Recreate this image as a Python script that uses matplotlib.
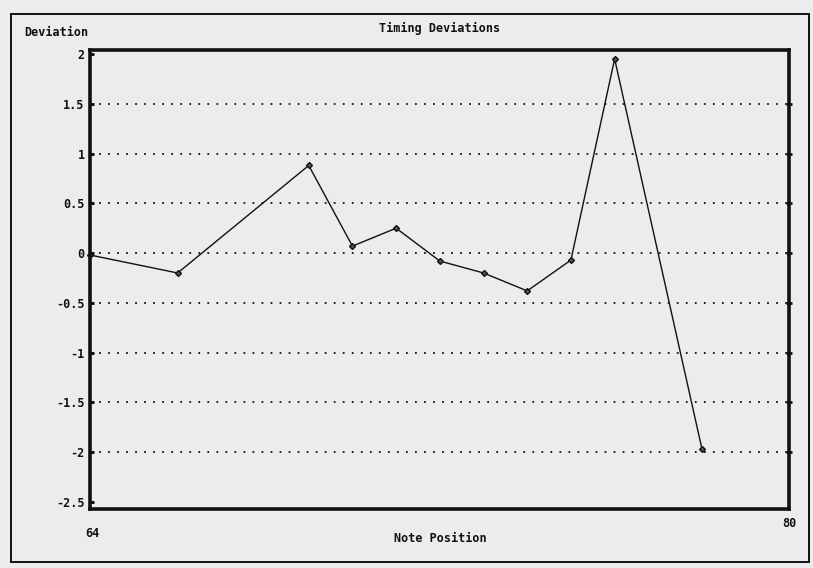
import matplotlib
matplotlib.use("Agg")
import matplotlib.pyplot as plt
from matplotlib.patches import Rectangle

# Timing deviation per note position
positions = [64, 66, 69, 70, 71, 72, 73, 74, 75, 76, 78]
deviations = [-0.02, -0.2, 0.88, 0.07, 0.25, -0.08, -0.2, -0.38, -0.07, 1.95, -1.97]

y_ticks = [2, 1.5, 1, 0.5, 0, -0.5, -1, -1.5, -2, -2.5]
y_tick_labels = ["2", "1.5", "1", "0.5", "0", "-0.5", "-1", "-1.5", "-2", "-2.5"]
grid_levels = [1.5, 1, 0.5, 0, -0.5, -1, -1.5, -2]
x_ends = [64, 80]

paper = "#ececec"
ink = "#111111"
font = dict(family="DejaVu Sans Mono", weight="bold", color=ink)

fig = plt.figure(figsize=(8.13, 5.68), dpi=100, facecolor=paper)
ax = fig.add_axes([0.111, 0.104, 0.860, 0.808], facecolor=paper)

# page border
fig.patches.append(Rectangle((0.013, 0.010), 0.982, 0.966, transform=fig.transFigure,
                             fill=False, edgecolor=ink, linewidth=1.4))

ax.set_xlim(x_ends[0], x_ends[1])
ax.set_ylim(-2.57, 2.04)

for lvl in grid_levels:
    ax.plot(x_ends, [lvl, lvl], linestyle=(0, (1, 4)), color=ink, linewidth=1.3)
    ax.plot([x_ends[1]], [lvl], marker="_", color=ink, markersize=5, mew=2,
            clip_on=False)

ax.plot(positions, deviations, color=ink, linewidth=1.0, marker="D",
        markersize=3, markerfacecolor="#555555", markeredgecolor=ink, clip_on=False)

for s in ax.spines.values():
    s.set_linewidth(2.6)
    s.set_color(ink)

ax.set_yticks(y_ticks)
ax.set_yticklabels(y_tick_labels, fontsize=8.5, **font)
ax.tick_params(axis="y", length=3, width=2, direction="in", pad=4)
ax.set_xticks([])

ax.text(x_ends[0] + 0.05, -2.75, str(x_ends[0]), ha="center", va="top", fontsize=8.5, **font)
ax.text(x_ends[1], -2.65, str(x_ends[1]), ha="center", va="top", fontsize=8.5, **font)

fig.text(0.541, 0.052, "Note Position", ha="center", va="center", fontsize=8.5, **font)
fig.text(0.069, 0.942, "Deviation", ha="center", va="center", fontsize=8.5, **font)
fig.text(0.541, 0.950, "Timing Deviations", ha="center", va="center", fontsize=8.5, **font)

fig.savefig("out.png", dpi=100, facecolor=paper)
